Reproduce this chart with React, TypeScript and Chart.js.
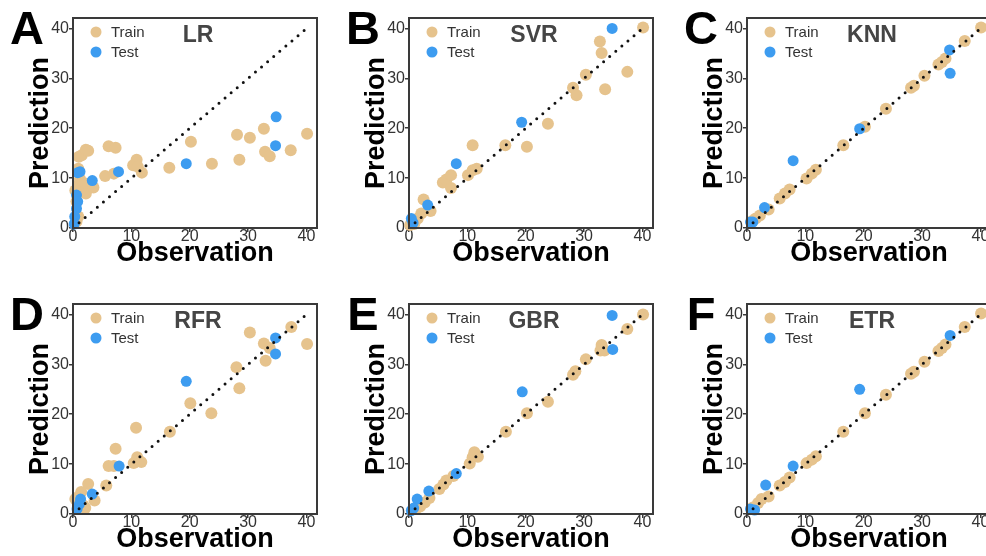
import React, { useEffect, useRef } from "react";
import { Chart, registerables } from "chart.js";

Chart.register(...registerables);

// Shared axis settings (both axes run 0..40 with a little headroom)
const TICK_VALUES = [0, 10, 20, 30, 40];
const X_MAX = 41.8;
const Y_MAX = 42.1;
const IDENTITY_LINE = [0, 40];

const TRAIN_COLOR = "#E6C38D";
const TEST_COLOR = "#3D9CF0";
const FONT = "'Liberation Sans', Arial, Helvetica, sans-serif";

// LR
const lrTrainObs = [0.6, 0.9, 0.6, 0.4, 0.9, 1.2, 0.9, 1.0, 1.5, 2.2, 2.6, 1.5, 2.1, 2.2, 3.5, 5.5, 6.1, 7.3, 7.0, 10.3, 10.9, 11.1, 11.8, 16.5, 20.2, 23.8, 28.1, 28.5, 30.3, 32.7, 32.9, 33.7, 37.3, 40.1];
const lrTrainPred = [1.3, 2.3, 5.3, 7.5, 8.6, 9.8, 11.9, 14.3, 14.6, 15.7, 15.5, 7.6, 8.9, 6.9, 8.1, 10.4, 16.4, 16.1, 10.9, 12.6, 13.7, 12.3, 11.1, 12.1, 17.3, 12.9, 18.7, 13.7, 18.1, 19.9, 15.3, 14.4, 15.6, 18.9];
const lrTestObs = [34.8, 34.7, 19.4, 7.8, 3.3, 1.2, 0.8, 0.6, 0.8, 0.6, 0.3, 0.2];
const lrTestPred = [22.3, 16.5, 12.9, 11.3, 9.5, 11.3, 11.1, 6.6, 5.3, 3.9, 2.3, 0.8];

// SVR
const svrTrainObs = [40.1, 37.4, 32.7, 33.0, 33.6, 30.3, 28.1, 28.7, 23.8, 20.2, 16.5, 10.9, 10.1, 10.9, 11.6, 5.8, 6.4, 7.2, 7.2, 2.5, 3.7, 2.1, 1.5, 0.9, 0.2];
const svrTrainPred = [40.2, 31.3, 37.4, 35.1, 27.8, 30.7, 28.1, 26.6, 20.9, 16.3, 16.6, 16.6, 10.6, 11.6, 11.9, 9.1, 9.7, 10.6, 8.0, 5.7, 3.4, 2.9, 1.9, 0.8, 0.6];
const svrTestObs = [34.8, 19.3, 8.1, 3.2, 0.4, 0.7];
const svrTestPred = [40.0, 21.2, 12.9, 4.6, 1.9, 1.0];

// KNN
const knnTrainObs = [40.1, 37.3, 32.8, 33.4, 34.0, 30.4, 28.1, 28.6, 23.8, 20.2, 16.5, 10.2, 11.1, 11.8, 5.6, 6.5, 7.3, 3.7, 2.2, 1.5, 0.9];
const knnTrainPred = [40.2, 37.5, 32.8, 33.3, 34.0, 30.5, 28.1, 28.5, 23.9, 20.3, 16.6, 9.9, 10.9, 11.7, 5.9, 6.9, 7.7, 3.7, 2.5, 1.9, 1.4];
const knnTestObs = [34.7, 34.8, 19.3, 7.9, 3.0, 1.0, 0.6];
const knnTestPred = [35.7, 31.0, 19.9, 13.5, 4.1, 1.2, 1.2];

// RFR
const rfrTrainObs = [40.1, 37.4, 32.7, 33.7, 33.0, 30.3, 28.0, 28.5, 23.7, 20.1, 16.6, 10.8, 11.0, 10.4, 11.7, 7.3, 6.1, 7.0, 5.7, 2.6, 1.4, 1.0, 0.4, 3.7, 1.8, 2.1];
const rfrTrainPred = [34.1, 37.5, 34.2, 33.3, 30.7, 36.4, 29.4, 25.2, 20.2, 22.2, 16.5, 17.3, 11.4, 10.2, 10.4, 13.1, 9.6, 9.6, 5.7, 6.0, 4.4, 3.5, 3.0, 2.7, 1.7, 1.2];
const rfrTestObs = [34.7, 34.7, 19.4, 7.9, 3.3, 1.3, 1.1, 0.7];
const rfrTestPred = [35.3, 32.1, 26.6, 9.6, 4.0, 3.0, 2.0, 1.0];

// GBR
const gbrTrainObs = [40.1, 37.4, 33.0, 33.5, 32.8, 30.3, 28.5, 28.1, 23.8, 20.2, 16.6, 11.2, 10.9, 11.8, 10.4, 7.6, 6.4, 5.9, 5.2, 3.5, 2.7, 1.9, 1.2];
const gbrTrainPred = [40.0, 37.1, 33.9, 32.8, 32.8, 31.0, 28.6, 27.9, 22.5, 20.2, 16.5, 12.4, 11.4, 11.5, 10.1, 7.6, 6.7, 5.9, 5.0, 3.2, 2.3, 1.5, 1.0];
const gbrTestObs = [34.8, 34.9, 19.4, 8.1, 3.4, 1.4, 0.8, 0.4];
const gbrTestPred = [39.8, 33.0, 24.5, 8.1, 4.6, 3.0, 1.2, 0.7];

// ETR
const etrTrainObs = [40.1, 37.3, 34.0, 33.4, 32.8, 30.4, 28.6, 28.1, 23.8, 20.2, 16.5, 10.2, 11.1, 11.8, 5.6, 6.5, 7.3, 3.7, 2.5, 1.9, 1.0];
const etrTrainPred = [40.2, 37.5, 34.0, 33.3, 32.7, 30.5, 28.5, 28.1, 23.9, 20.2, 16.5, 10.2, 10.9, 11.6, 5.7, 6.4, 7.3, 3.5, 3.0, 2.2, 1.3];
const etrTestObs = [34.8, 19.3, 7.9, 3.2, 0.6, 1.3];
const etrTestPred = [35.8, 25.0, 9.6, 5.8, 1.0, 0.8];

const panelLetters = ["A", "B", "C", "D", "E", "F"];
const modelNames = ["LR", "SVR", "KNN", "RFR", "GBR", "ETR"];
const seriesLabels = ["Train", "Test"];

const panelSeries = [
  [lrTrainObs, lrTrainPred, lrTestObs, lrTestPred],
  [svrTrainObs, svrTrainPred, svrTestObs, svrTestPred],
  [knnTrainObs, knnTrainPred, knnTestObs, knnTestPred],
  [rfrTrainObs, rfrTrainPred, rfrTestObs, rfrTestPred],
  [gbrTrainObs, gbrTrainPred, gbrTestObs, gbrTestPred],
  [etrTrainObs, etrTrainPred, etrTestObs, etrTestPred],
];

// Canvas placement of each panel (top-left corner on the page)
const CANVAS_W = 330;
const CANVAS_H = 278;
const COL_LEFT = [0, 336, 674];
const ROW_TOP = [0, 286];

const toPoints = (xs: number[], ys: number[]) => xs.map((x, i) => ({ x, y: ys[i] }));

// Frame, model name, in-plot legend and panel letter
const panelDecor = {
  id: "panelDecor",
  afterDatasetsDraw(chart: any, _args: any, opts: any) {
    const { ctx, chartArea: a } = chart;
    ctx.save();
    ctx.strokeStyle = "#3a3a3a";
    ctx.lineWidth = 2;
    ctx.strokeRect(a.left, a.top, a.right - a.left, a.bottom - a.top);

    ctx.fillStyle = "#454545";
    ctx.font = `bold 23px ${FONT}`;
    ctx.textAlign = "center";
    ctx.textBaseline = "middle";
    ctx.fillText(opts.model, (a.left + a.right) / 2 + 3, a.top + 18);

    // legend entries follow the Train, Test order
    const legendSets = seriesLabels
      .map((name) => chart.data.datasets.find((d: any) => d.label === name))
      .filter(Boolean);
    ctx.font = `15px ${FONT}`;
    ctx.textAlign = "left";
    legendSets.forEach((d: any, i: number) => {
      const cy = a.top + 14 + i * 20;
      ctx.beginPath();
      ctx.fillStyle = d.backgroundColor;
      ctx.arc(a.left + 23, cy, 5.5, 0, Math.PI * 2);
      ctx.fill();
      ctx.fillStyle = "#333";
      ctx.fillText(d.label, a.left + 38, cy + 1);
    });

    ctx.fillStyle = "#000";
    ctx.font = `bold 47px ${FONT}`;
    ctx.textAlign = "center";
    ctx.textBaseline = "alphabetic";
    ctx.fillText(opts.letter, 27, 44);
    ctx.restore();
  },
};

function Panel({ index }: { index: number }) {
  const ref = useRef<HTMLCanvasElement | null>(null);

  useEffect(() => {
    if (!ref.current) return;
    const [trObs, trPred, teObs, tePred] = panelSeries[index];
    const setTicks = (scale: any) => {
      scale.ticks = TICK_VALUES.map((v) => ({ value: v }));
    };
    const chart = new Chart(ref.current, {
      type: "scatter",
      data: {
        datasets: [
          {
            label: "y = x",
            data: IDENTITY_LINE.map((v) => ({ x: v, y: v })),
            showLine: true,
            borderColor: "#111",
            borderWidth: 3,
            borderDash: [0, 8],
            borderCapStyle: "round",
            pointRadius: 0,
            fill: false,
          } as any,
          {
            label: seriesLabels[1],
            data: toPoints(teObs, tePred),
            backgroundColor: TEST_COLOR,
            borderWidth: 0,
            pointRadius: 5.5,
            clip: false,
          } as any,
          {
            label: seriesLabels[0],
            data: toPoints(trObs, trPred),
            backgroundColor: TRAIN_COLOR,
            borderWidth: 0,
            pointRadius: 6,
            clip: false,
          } as any,
        ],
      },
      options: {
        animation: false,
        responsive: false,
        events: [],
        layout: { padding: { left: 0, top: 18, right: 13, bottom: 0 } },
        plugins: {
          legend: { display: false },
          tooltip: { enabled: false },
          panelDecor: { letter: panelLetters[index], model: modelNames[index] },
        } as any,
        scales: {
          x: {
            type: "linear",
            min: 0,
            max: X_MAX,
            afterBuildTicks: setTicks,
            afterFit: (s: any) => {
              s.height = 50;
            },
            grid: { display: true, drawOnChartArea: false, drawTicks: true, tickLength: 4, color: "#3a3a3a", lineWidth: 1.5 },
            border: { display: true, color: "#3a3a3a", width: 2 },
            ticks: { color: "#333", font: { family: FONT, size: 16, lineHeight: 1.2 }, padding: -5, maxRotation: 0, includeBounds: false },
            title: { display: true, text: "Observation", color: "#000", font: { family: FONT, size: 27, weight: "bold", lineHeight: 1.2 }, padding: { top: 0, bottom: 8 } },
          },
          y: {
            type: "linear",
            min: 0,
            max: Y_MAX,
            afterBuildTicks: setTicks,
            afterFit: (s: any) => {
              s.width = 73;
            },
            grid: { display: true, drawOnChartArea: false, drawTicks: true, tickLength: 4, color: "#3a3a3a", lineWidth: 1.5 },
            border: { display: true, color: "#3a3a3a", width: 2 },
            ticks: { color: "#333", font: { family: FONT, size: 16 }, padding: 0, includeBounds: false },
            title: { display: true, text: "Prediction", color: "#000", font: { family: FONT, size: 27, weight: "bold", lineHeight: 1.2 }, padding: { top: 24, bottom: 0 } },
          },
        },
      },
      plugins: [panelDecor as any],
    });
    return () => chart.destroy();
  }, [index]);

  const col = index % 3;
  const row = Math.floor(index / 3);
  return (
    <canvas
      ref={ref}
      width={CANVAS_W}
      height={CANVAS_H}
      style={{ position: "absolute", left: COL_LEFT[col], top: ROW_TOP[row], width: CANVAS_W, height: CANVAS_H }}
    />
  );
}

export default function App() {
  return (
    <div
      style={{
        position: "absolute",
        left: 0,
        top: 0,
        width: 986,
        height: 556,
        overflow: "hidden",
        background: "#fff",
      }}
    >
      {panelLetters.map((_, i) => (
        <Panel key={i} index={i} />
      ))}
    </div>
  );
}
